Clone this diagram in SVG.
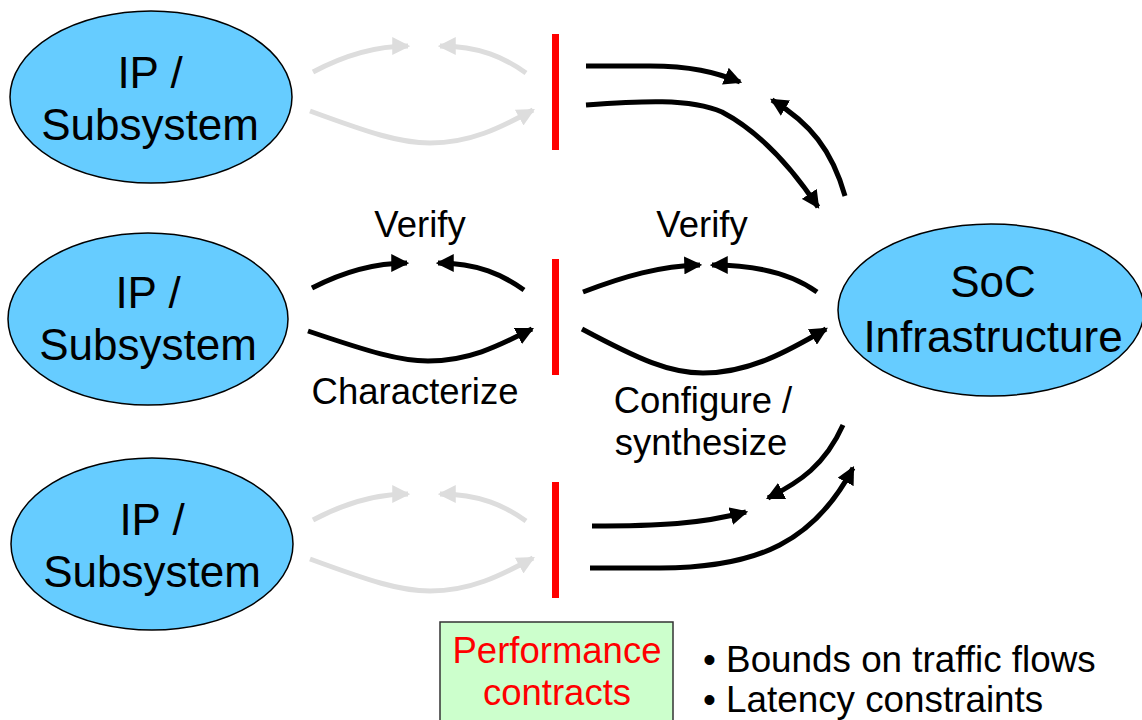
<svg xmlns="http://www.w3.org/2000/svg" width="1142" height="720" viewBox="0 0 1142 720">
<defs>
<style>
.node{fill:#66ccff;stroke:#000;stroke-width:1.5}
.t{font-family:"Liberation Sans",Arial,sans-serif;font-size:44px;fill:#000;text-anchor:middle}
.lbl{font-family:"Liberation Sans",Arial,sans-serif;font-size:36.5px;fill:#000;text-anchor:middle}
.blt{font-family:"Liberation Sans",Arial,sans-serif;font-size:36.8px;fill:#000}
.k{fill:none;stroke:#000;stroke-width:5;marker-end:url(#ah)}
.g{fill:none;stroke:#dddddd;stroke-width:5;marker-end:url(#ag)}
.bar{fill:#ff0000}
</style>
<marker id="ah" viewBox="0 0 16 16" refX="14" refY="8" markerWidth="18" markerHeight="18" markerUnits="userSpaceOnUse" orient="auto"><path d="M0,0 L16,8 L0,16 z" fill="#000"/></marker>
<marker id="ag" viewBox="0 0 16 16" refX="14" refY="8" markerWidth="18" markerHeight="18" markerUnits="userSpaceOnUse" orient="auto"><path d="M0,0 L16,8 L0,16 z" fill="#dddddd"/></marker>
</defs>
<rect width="1142" height="720" fill="#fff"/>
<g id="ip1"><ellipse class="node" cx="151" cy="97" rx="141" ry="86"/><text class="t" x="150" y="88">IP /</text><text class="t" x="150" y="140">Subsystem</text></g>
<g id="ip2"><ellipse class="node" cx="148" cy="319" rx="140" ry="86"/><text class="t" x="148" y="308">IP /</text><text class="t" x="148" y="360">Subsystem</text></g>
<g id="ip3"><ellipse class="node" cx="152" cy="544" rx="141" ry="86"/><text class="t" x="152" y="535">IP /</text><text class="t" x="152" y="587">Subsystem</text></g>
<g id="soc"><ellipse class="node" cx="991" cy="310" rx="153" ry="86"/><text class="t" x="993" y="297">SoC</text><text class="t" x="993" y="352">Infrastructure</text></g>
<g id="bars"><rect class="bar" x="552" y="34" width="7" height="116"/><rect class="bar" x="552" y="259" width="7" height="116"/><rect class="bar" x="552" y="482" width="7" height="116"/></g>
<g id="connectors">
<path class="g" d="M313,72 C345,55 375,46 408,46"/>
<path class="g" d="M526,73 C505,58 480,46 440,46"/>
<path class="g" d="M310,111 C370,133 400,143 430,143 C470,143 500,128 533,110"/>
<path class="k" d="M312,288 C345,271 375,263 407,263"/>
<path class="k" d="M524,290 C503,275 478,263 438,263"/>
<path class="k" d="M308,331 C370,352 400,361 428,361 C470,361 500,345 532,329"/>
<path class="g" d="M313,520 C345,503 375,494 408,494"/>
<path class="g" d="M526,521 C505,506 480,494 440,494"/>
<path class="g" d="M310,559 C370,581 400,591 430,591 C470,591 500,576 533,558"/>
<path class="k" d="M583,292 C625,276 660,266 700,265"/>
<path class="k" d="M817,292 C795,276 760,265 712,265"/>
<path class="k" d="M582,329 C640,360 670,373 703,373 C750,373 790,350 826,329"/>
<path class="k" d="M586,66 L650,66 C690,66 715,72 740,82"/>
<path class="k" d="M586,105 C640,101 690,98 722,112 C760,132 792,168 818,207"/>
<path class="k" d="M845,196 C832,150 810,123 772,100"/>
<path class="k" d="M843,425 C825,465 800,482 768,498"/>
<path class="k" d="M592,526 C660,526 700,524 746,512"/>
<path class="k" d="M590,568 L660,568 C760,568 815,540 853,468"/>
</g>
<g id="labels">
<text class="lbl" x="420" y="237">Verify</text>
<text class="lbl" x="702" y="237">Verify</text>
<text class="lbl" x="415" y="404">Characterize</text>
<text class="lbl" x="703" y="413">Configure /</text>
<text class="lbl" x="701" y="455">synthesize</text>
</g>
<g id="contracts"><rect x="440" y="622" width="233" height="110" fill="#ccffcc" stroke="#333" stroke-width="1.5"/><text class="lbl" x="557" y="663" style="fill:#ff0000">Performance</text><text class="lbl" x="557" y="705" style="fill:#ff0000">contracts</text></g>
<g id="bullets"><text class="blt" x="703" y="672">• Bounds on traffic flows</text><text class="blt" x="703" y="712">• Latency constraints</text></g>
</svg>
